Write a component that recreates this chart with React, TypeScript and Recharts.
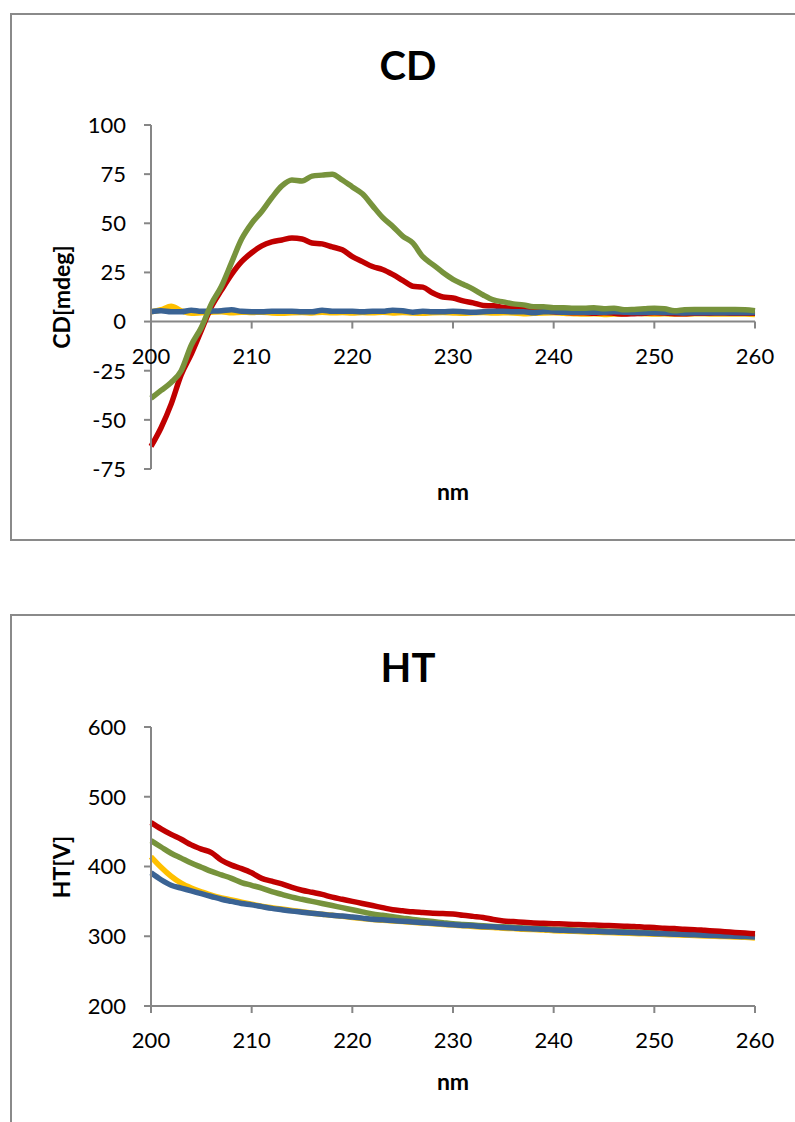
import { LineChart, Line, XAxis, YAxis, ReferenceLine } from "recharts";

// wavelength grid, nm
const wavelengths = [
  200, 201, 202, 203, 204, 205, 206, 207, 208, 209, 210, 211, 212, 213, 214, 215, 216, 217, 218, 219, 220,
  221, 222, 223, 224, 225, 226, 227, 228, 229, 230, 231, 232, 233, 234, 235, 236, 237, 238, 239, 240,
  241, 242, 243, 244, 245, 246, 247, 248, 249, 250, 251, 252, 253, 254, 255, 256, 257, 258, 259, 260,
];

// CD signal, mdeg
const cdYellow = [
  5, 6, 7.8, 5.5, 4.2, 4.5, 4.8, 5, 4.5, 4.8, 4.6, 4.8, 4.4, 4.2, 4.5, 4.6, 4.4, 4.8, 4.5, 4.6, 4.3,
  4.6, 4.5, 4.8, 4.4, 4.6, 4.3, 4.2, 4.5, 4.6, 4.4, 4.2, 4.5, 4.6, 4.3, 4.5, 4.4, 4, 4.2, 4.4, 4.5,
  4.2, 4, 3.8, 4, 3.6, 3.8, 4, 4.2, 4, 3.8, 4, 3.8, 3.8, 4, 4, 3.8, 3.8, 3.8, 3.8, 3.6,
];
const cdRed = [
  -63.5, -54, -42, -27, -16.5, -4.5, 7.5, 16, 24, 30.5, 35, 38.5, 40.5, 41.5, 42.5, 42, 40, 39.5, 38, 36.5, 33,
  30.5, 28, 26.5, 24, 21, 18, 17.5, 14.5, 12.5, 12, 10.5, 9.5, 8.2, 8, 7.2, 6.7, 6.5, 6, 5.5, 5,
  4.8, 4.5, 4.5, 4.2, 4.5, 4.2, 3.8, 4, 4.2, 4.5, 4.3, 4, 4, 4.2, 4.2, 4.3, 4.3, 4.2, 4.2, 4.2,
];
const cdBlue = [
  5, 5.5, 5, 5, 5.8, 5.2, 5.3, 5.5, 6, 5.2, 5, 5, 5.2, 5.2, 5.3, 5, 5, 5.8, 5.3, 5.3, 5.2,
  5, 5.3, 5.2, 5.8, 5.5, 4.8, 5.2, 5, 5, 5.2, 5, 4.8, 5, 5.2, 5.2, 5, 5, 4.5, 5, 5,
  4.8, 4.8, 4.8, 4.8, 4.8, 5, 4.8, 4.6, 4.6, 4.8, 4.6, 4.6, 4.4, 4.5, 4.5, 4.5, 4.5, 4.5, 4.5, 4.6,
];
const cdGreen = [
  -39, -35, -31, -25, -12, -3, 9, 18, 30, 42, 50, 56, 63, 69, 72, 71.5, 74, 74.5, 75, 72, 68.5,
  65, 59, 53, 48.5, 43.5, 40, 33, 29, 25, 21.5, 19, 16.5, 13.5, 11, 10, 9, 8.5, 7.5, 7.5, 7,
  7, 6.8, 6.8, 7, 6.5, 6.8, 6, 6.2, 6.5, 6.8, 6.5, 5.5, 6, 6.2, 6.2, 6.2, 6.2, 6.2, 6, 5.5,
];

// HT voltage, V
const htYellow = [
  414, 399, 386, 376, 369, 363.5, 359, 355, 352, 349, 346, 343, 341, 339, 337, 335, 333, 331.5, 330, 328.5, 327,
  325.5, 324, 323, 322, 321, 320, 319, 318, 317, 316, 315, 314, 313, 312.5, 311.5, 311, 310, 309.5, 309, 308,
  307.5, 307, 306.5, 306, 305.5, 305, 304.5, 304, 303.5, 303, 302.5, 302, 301.5, 301, 300.5, 300, 299.5, 299, 298.5, 297.5,
];
const htGreen = [
  437, 428, 419, 412, 405, 399, 393, 388, 383, 377, 373, 369, 364, 360, 356, 353, 350, 347, 344, 341, 338,
  335, 332, 330, 328, 326, 324, 322.5, 321, 319.5, 318, 317, 316, 315, 314, 313.5, 313, 312, 311.5, 311, 310,
  309.5, 309, 308.5, 308, 307.5, 307, 306.5, 306, 305.5, 305, 304.5, 304, 303.5, 303, 302.5, 302, 301.5, 301, 300.5, 300,
];
const htBlue = [
  391, 381, 373, 369, 365, 361, 357, 353, 350, 347, 345, 342.5, 340, 338, 336, 334.5, 333, 331.5, 330, 329, 327.5,
  326, 324.5, 323.5, 322.5, 321.5, 320.5, 319.5, 318.5, 317.5, 316.5, 315.5, 315, 314, 313.5, 312.5, 312, 311, 310.5, 310, 309,
  308.5, 308, 307.5, 307, 306.5, 306, 305.5, 305, 304.5, 304, 303.5, 303, 302.5, 302, 301.5, 301, 300.5, 300, 299.5, 299,
];
const htRed = [
  463, 454, 446, 439, 431, 425, 420, 409, 402, 397, 391, 383, 379, 375, 370, 366, 363, 360, 356, 353, 350,
  347, 344, 341, 338, 336.5, 335, 334, 333, 332.5, 332, 330, 328.5, 327, 324, 322, 321, 320, 319, 318.5, 318,
  317.5, 317, 316.5, 316, 315.5, 315, 314.5, 314, 313, 312.5, 311.5, 311, 310, 309.5, 308.5, 307.5, 306.5, 305.5, 304.5, 303.5,
];

const nmTicks = [200, 210, 220, 230, 240, 250, 260];
const cdTicks = [-75, -50, -25, 0, 25, 50, 75, 100];
const htTicks = [200, 300, 400, 500, 600];

const FONT = "Lato, 'Open Sans', sans-serif";
const AXIS_GREY = "#868686";
const RED = "#C00000";
const GREEN = "#77933C";
const YELLOW = "#FFC000";
const BLUE = "#3A6394";

type Series = { key: string; color: string; values: number[] };

function buildRows(series: Series[]) {
  return wavelengths.map((nm, i) => {
    const row: Record<string, number> = { nm };
    series.forEach((s) => {
      row[s.key] = s.values[i];
    });
    return row;
  });
}

// x tick drawn on the line where the horizontal axis crosses (lift = px above the plot bottom)
function NmTick(props: any) {
  const { x, y, payload, lift } = props;
  const y0 = y - lift;
  return (
    <g>
      <line x1={x} x2={x} y1={y0} y2={y0 + 7} stroke={AXIS_GREY} strokeWidth={2} />
      <text x={x} y={y0 + 42} textAnchor="middle" fontSize={22} fill="#000" fontFamily={FONT}>
        {payload.value}
      </text>
    </g>
  );
}

interface PanelProps {
  box: { left: number; top: number; height: number };
  chartTop: number;
  chartHeight: number;
  plotTop: number;
  plotBottom: number;
  title: string;
  titleY: number;
  yLabel: string;
  xLabelY: number;
  domain: [number, number];
  yTicks: number[];
  crossAt: number;
  series: Series[];
}

const PLOT_LEFT = 151;
const PLOT_RIGHT = 755;
const CHART_W = 795;
const Y_AXIS_W = 60;
const X_AXIS_H = 30;

function Panel(p: PanelProps) {
  const rows = buildRows(p.series);
  const plotH = p.plotBottom - p.plotTop;
  const lift = (plotH * (p.crossAt - p.domain[0])) / (p.domain[1] - p.domain[0]);
  const midY = (p.plotTop + p.plotBottom) / 2;

  return (
    <>
      <div
        style={{
          position: "absolute",
          left: p.box.left,
          top: p.box.top,
          width: 820,
          height: p.box.height,
          border: "2px solid #8a8a8a",
          boxSizing: "border-box",
        }}
      />
      <div
        style={{
          position: "absolute",
          left: p.box.left,
          width: 796,
          top: p.titleY - 24,
          height: 48,
          lineHeight: "48px",
          textAlign: "center",
          fontFamily: FONT,
          fontWeight: 700,
          fontSize: 40,
          color: "#000",
        }}
      >
        {p.title}
      </div>
      <div
        style={{
          position: "absolute",
          left: 61,
          top: midY,
          transform: "translate(-50%, -50%) rotate(-90deg)",
          whiteSpace: "nowrap",
          fontFamily: FONT,
          fontWeight: 700,
          fontSize: 23,
          color: "#000",
        }}
      >
        {p.yLabel}
      </div>
      <div
        style={{
          position: "absolute",
          left: PLOT_LEFT,
          width: PLOT_RIGHT - PLOT_LEFT,
          top: p.xLabelY - 14,
          height: 28,
          lineHeight: "28px",
          textAlign: "center",
          fontFamily: FONT,
          fontWeight: 700,
          fontSize: 23,
          color: "#000",
        }}
      >
        nm
      </div>
      <div style={{ position: "absolute", left: 0, top: p.chartTop }}>
        <LineChart
          width={CHART_W}
          height={p.chartHeight}
          data={rows}
          margin={{
            top: p.plotTop - p.chartTop,
            right: CHART_W - PLOT_RIGHT,
            bottom: p.chartTop + p.chartHeight - p.plotBottom - X_AXIS_H,
            left: PLOT_LEFT - Y_AXIS_W,
          }}
        >
          <XAxis
            dataKey="nm"
            type="number"
            domain={[200, 260]}
            ticks={nmTicks}
            interval={0}
            height={X_AXIS_H}
            axisLine={false}
            tickLine={false}
            tickSize={0}
            tickMargin={0}
            tick={<NmTick lift={lift} />}
          />
          <YAxis
            type="number"
            domain={p.domain}
            ticks={p.yTicks}
            interval={0}
            width={Y_AXIS_W}
            allowDataOverflow
            axisLine={{ stroke: AXIS_GREY, strokeWidth: 2 }}
            tickLine={{ stroke: AXIS_GREY, strokeWidth: 2 }}
            tickSize={7}
            tickMargin={18}
            tick={{ fill: "#000", fontSize: 22, fontFamily: FONT }}
          />
          <ReferenceLine y={p.crossAt} stroke={AXIS_GREY} strokeWidth={2} />
          {p.series.map((s) => (
            <Line
              key={s.key}
              type="monotone"
              dataKey={s.key}
              stroke={s.color}
              strokeWidth={5.5}
              strokeLinejoin="round"
              dot={false}
              activeDot={false}
              isAnimationActive={false}
            />
          ))}
        </LineChart>
      </div>
    </>
  );
}

export default function App() {
  return (
    <div
      style={{
        position: "fixed",
        left: 0,
        top: 0,
        width: 795,
        height: 1122,
        overflow: "hidden",
        background: "#fff",
      }}
    >
      <Panel
        box={{ left: 10, top: 13, height: 528 }}
        chartTop={0}
        chartHeight={540}
        plotTop={125}
        plotBottom={469}
        title="CD"
        titleY={65}
        yLabel="CD[mdeg]"
        xLabelY={491}
        domain={[-75, 100]}
        yTicks={cdTicks}
        crossAt={0}
        series={[
          { key: "yellow", color: YELLOW, values: cdYellow },
          { key: "red", color: RED, values: cdRed },
          { key: "blue", color: BLUE, values: cdBlue },
          { key: "green", color: GREEN, values: cdGreen },
        ]}
      />
      <Panel
        box={{ left: 10, top: 614, height: 540 }}
        chartTop={600}
        chartHeight={522}
        plotTop={727}
        plotBottom={1006}
        title="HT"
        titleY={667}
        yLabel="HT[V]"
        xLabelY={1081}
        domain={[200, 600]}
        yTicks={htTicks}
        crossAt={200}
        series={[
          { key: "yellow", color: YELLOW, values: htYellow },
          { key: "green", color: GREEN, values: htGreen },
          { key: "blue", color: BLUE, values: htBlue },
          { key: "red", color: RED, values: htRed },
        ]}
      />
    </div>
  );
}
